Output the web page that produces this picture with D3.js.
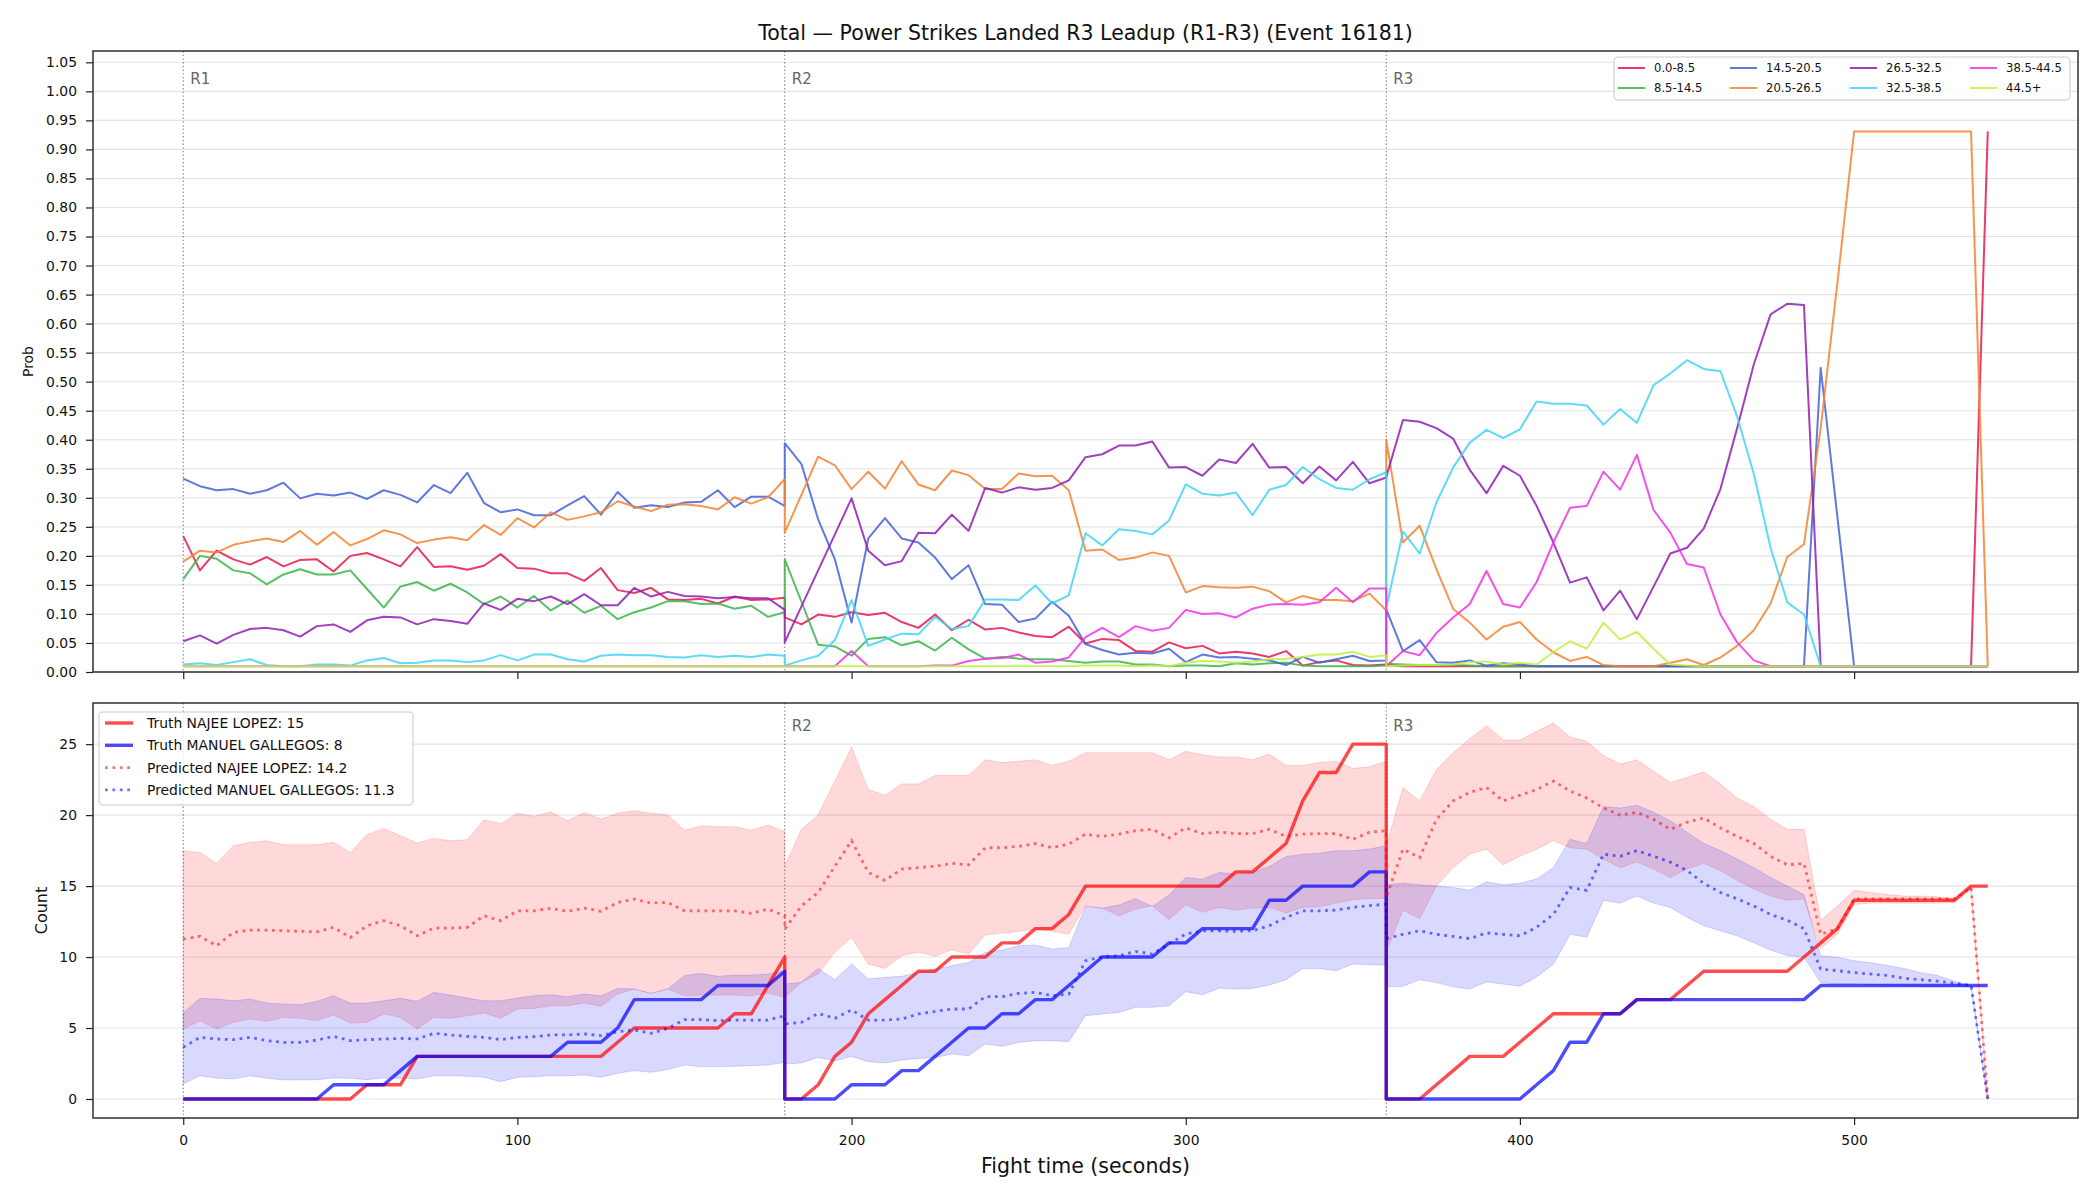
<!DOCTYPE html>
<html>
<head>
<meta charset="utf-8">
<script src="https://cdn.jsdelivr.net/npm/d3@7"></script>
<style>
  body { margin: 0; background: #fff; }
  svg { font-family: "DejaVu Sans", sans-serif; }
</style>
</head>
<body>
<svg id="chart" width="2100" height="1200"></svg>
<script>
// sampling: each round has its own samples every 5 s, round boundaries repeated
const roundStarts = [0, 180, 360];
const roundNames = ['R1', 'R2', 'R3'];
const roundLen = 180, step = 5;
const times = roundStarts.flatMap(s => d3.range(s, s + roundLen + 1, step));

const binLabels = ['0.0-8.5', '8.5-14.5', '14.5-20.5', '20.5-26.5', '26.5-32.5', '32.5-38.5', '38.5-44.5', '44.5+'];
const binColors = ['#e6194b', '#3cb44b', '#4363d8', '#f58231', '#911eb4', '#42d4f4', '#f032e6', '#bfef45'];

const bin0 = [
  .234,.175,.209,.194,.185,.198,.182,.193,.194,.173,.200,.205,.194,.182,.215,.181,.182,.176,.183,.203,.179,.178,.170,.170,.157,.179,.141,.136,.145,.125,.124,.126,.118,.130,.124,.125,.128,
  .094,.082,.099,.095,.103,.098,.102,.086,.076,.099,.072,.090,.073,.076,.068,.062,.060,.078,.049,.057,.055,.036,.035,.051,.041,.045,.032,.035,.032,.026,.036,.011,.017,.020,.012,.011,.013,
  .012,.010,.010,.010,.010,.010,.010,.010,.010,.010,.010,.010,.010,.010,.010,.010,.010,.010,.010,.010,.010,.010,.010,.010,.010,.010,.010,.010,.010,.010,.010,.010,.010,.010,.010,.010,.931
];
const bin1 = [
  .160,.200,.195,.175,.170,.151,.168,.177,.168,.168,.175,.143,.111,.147,.155,.140,.152,.137,.117,.130,.111,.131,.106,.123,.102,.114,.091,.103,.111,.122,.122,.117,.118,.109,.114,.095,.103,
  .194,.121,.047,.044,.028,.057,.060,.046,.053,.037,.059,.039,.023,.026,.023,.022,.022,.019,.016,.018,.018,.013,.013,.010,.011,.011,.010,.015,.013,.015,.016,.011,.010,.010,.010,.010,.011,
  .014,.013,.012,.012,.012,.011,.010,.010,.010,.010,.010,.010,.010,.010,.010,.010,.010,.010,.010,.010,.010,.010,.010,.010,.010,.010,.010,.010,.010,.010,.010,.010,.010,.010,.010,.010,.010
];
const bin2 = [
  .333,.320,.313,.315,.307,.313,.326,.299,.307,.304,.309,.298,.313,.305,.292,.322,.308,.343,.291,.275,.280,.270,.270,.287,.303,.271,.310,.283,.287,.284,.292,.293,.313,.284,.302,.302,.286,
  .394,.358,.263,.194,.085,.230,.265,.230,.223,.197,.160,.184,.117,.116,.086,.092,.121,.097,.048,.038,.030,.033,.032,.040,.017,.030,.025,.026,.023,.020,.012,.026,.016,.022,.028,.019,.020,
  .108,.036,.055,.017,.016,.020,.011,.015,.013,.010,.010,.010,.010,.010,.010,.010,.010,.010,.010,.010,.010,.010,.010,.010,.010,.010,.524,.267,.010,.010,.010,.010,.010,.010,.010,.010,.010
];
const bin3 = [
  .190,.209,.206,.219,.225,.230,.224,.243,.219,.241,.218,.229,.244,.237,.222,.228,.232,.227,.253,.236,.265,.249,.275,.262,.268,.275,.294,.285,.277,.288,.289,.286,.280,.301,.290,.301,.332,
  .240,.305,.371,.356,.315,.345,.316,.363,.323,.313,.347,.339,.315,.315,.342,.337,.338,.313,.209,.211,.193,.197,.206,.200,.137,.148,.146,.145,.147,.139,.120,.131,.124,.124,.122,.135,.106,
  .400,.223,.252,.177,.109,.085,.056,.078,.086,.056,.034,.019,.026,.012,.010,.010,.010,.016,.022,.012,.025,.045,.072,.118,.198,.220,.420,.670,.931,.931,.931,.931,.931,.931,.931,.931,.010
];
const bin4 = [
  .053,.063,.049,.064,.074,.076,.072,.061,.079,.082,.069,.089,.095,.094,.082,.091,.088,.083,.118,.107,.126,.122,.130,.117,.134,.115,.115,.145,.130,.138,.131,.130,.127,.129,.127,.127,.107,
  .051,.113,.175,.237,.299,.209,.184,.191,.240,.239,.271,.243,.317,.309,.318,.314,.317,.330,.370,.375,.390,.390,.397,.352,.353,.338,.366,.360,.393,.352,.353,.325,.354,.330,.362,.325,.335,
  .336,.434,.431,.420,.402,.348,.308,.355,.338,.286,.223,.154,.163,.106,.140,.091,.147,.204,.214,.247,.315,.420,.530,.616,.634,.632,.010,.010,.010,.010,.010,.010,.010,.010,.010,.010,.010
];
const bin5 = [
  .013,.015,.012,.017,.022,.012,.010,.010,.013,.013,.011,.020,.024,.015,.016,.020,.020,.017,.020,.029,.020,.030,.030,.022,.018,.028,.030,.029,.029,.026,.025,.029,.026,.028,.026,.030,.028,
  .011,.020,.028,.055,.124,.045,.056,.066,.065,.095,.074,.079,.125,.125,.124,.149,.118,.132,.239,.218,.246,.243,.237,.261,.323,.307,.304,.309,.270,.314,.322,.353,.332,.317,.314,.332,.344,
  .110,.242,.204,.292,.352,.395,.417,.403,.418,.466,.462,.462,.459,.426,.453,.429,.494,.514,.537,.522,.518,.440,.341,.214,.120,.099,.010,.010,.010,.010,.010,.010,.010,.010,.010,.010,.010
];
const bin6 = [
  .010,.010,.010,.010,.010,.010,.010,.010,.010,.010,.010,.010,.010,.010,.010,.010,.010,.010,.010,.010,.010,.010,.010,.010,.010,.010,.010,.010,.010,.010,.010,.010,.010,.010,.010,.010,.010,
  .010,.010,.010,.010,.036,.010,.010,.010,.010,.011,.011,.019,.023,.024,.030,.016,.018,.025,.060,.076,.060,.079,.071,.076,.107,.100,.101,.094,.109,.116,.117,.116,.120,.145,.120,.144,.144,
  .010,.036,.029,.067,.094,.117,.174,.117,.111,.155,.223,.283,.286,.345,.314,.374,.279,.240,.186,.180,.099,.051,.020,.010,.010,.010,.010,.010,.010,.010,.010,.010,.010,.010,.010,.010,.010
];
const bin7 = [
  .010,.010,.010,.010,.010,.010,.010,.010,.010,.010,.010,.010,.010,.010,.010,.010,.010,.010,.010,.010,.010,.010,.010,.010,.010,.010,.010,.010,.010,.010,.010,.010,.010,.010,.010,.010,.010,
  .010,.010,.010,.010,.010,.010,.010,.010,.010,.010,.010,.010,.010,.010,.010,.010,.010,.010,.011,.011,.011,.010,.011,.010,.016,.019,.018,.016,.018,.022,.023,.026,.030,.030,.035,.026,.029,
  .010,.011,.012,.012,.013,.017,.018,.013,.016,.013,.034,.053,.040,.085,.056,.069,.040,.013,.011,.010,.010,.010,.010,.010,.010,.010,.010,.010,.010,.010,.010,.010,.010,.010,.010,.010,.010
];
const binSeries = [bin0, bin1, bin2, bin3, bin4, bin5, bin6, bin7];

// bottom panel: cumulative counts
const truthRed = [
  0,0,0,0,0,0,0,0,0,0,0,1,1,1,3,3,3,3,3,3,3,3,3,3,3,3,4,5,5,5,5,5,5,6,6,8,10,
  0,0,1,3,4,6,7,8,9,9,10,10,10,11,11,12,12,13,15,15,15,15,15,15,15,15,15,16,16,17,18,21,23,23,25,25,25,
  0,0,0,1,2,3,3,3,4,5,6,6,6,6,6,7,7,7,8,9,9,9,9,9,9,10,11,12,14,14,14,14,14,14,14,15,15
];
const truthBlue = [
  0,0,0,0,0,0,0,0,0,1,1,1,1,2,3,3,3,3,3,3,3,3,3,4,4,4,5,7,7,7,7,7,8,8,8,8,9,
  0,0,0,0,1,1,1,2,2,3,4,5,5,6,6,7,7,8,9,10,10,10,10,11,11,12,12,12,12,14,14,15,15,15,15,16,16,
  0,0,0,0,0,0,0,0,0,1,2,4,4,6,6,7,7,7,7,7,7,7,7,7,7,7,8,8,8,8,8,8,8,8,8,8,8
];
const predRed = [
  11.27,11.46,10.80,11.74,11.90,11.90,11.85,11.81,11.78,12.09,11.38,12.21,12.56,12.21,11.50,12.04,12.04,12.09,12.91,12.56,13.26,13.26,13.43,13.22,13.45,13.22,13.85,14.08,13.80,13.85,13.26,13.26,13.26,13.26,13.08,13.38,12.91,
  11.97,13.6,14.55,16.4,18.2,15.96,15.4,16.2,16.3,16.4,16.6,16.5,17.7,17.7,17.8,18.0,17.7,17.96,18.66,18.5,18.66,18.9,19.0,18.4,19.1,18.7,18.8,18.7,18.7,19.0,18.5,18.66,18.7,18.7,18.3,18.8,18.9,
  14.2,17.6,17.0,19.7,21.0,21.6,21.95,21.0,21.4,21.8,22.4,21.7,21.2,20.5,20.0,20.2,19.7,19.0,19.5,19.8,19.1,18.5,18.0,17.1,16.5,16.6,11.6,12.0,14.1,14.1,14.1,14.1,14.1,14.1,14.1,14.9,0
];
const redHi = [
  17.49,17.37,16.60,17.84,18.08,18.19,17.91,17.91,17.91,18.08,17.37,18.62,19.06,18.54,18.03,18.36,18.19,18.26,19.67,19.41,20.14,19.91,20.23,19.60,20.19,19.72,20.14,20.31,20.14,20.02,18.94,19.25,19.18,19.18,18.94,19.30,18.83,
  16.4,19.0,20.0,22.4,24.8,21.8,21.4,22.2,22.2,22.8,22.8,22.8,23.9,23.7,23.8,23.9,23.5,23.8,24.4,24.4,24.4,24.4,24.4,23.9,24.5,24.25,24.1,24.1,23.9,24.3,23.5,23.5,23.7,23.8,23.3,23.4,23.8,
  17.8,21.95,21.0,23.2,24.4,25.4,26.3,25.3,25.3,25.9,26.5,25.5,25.2,24.2,23.6,23.9,23.1,22.3,22.65,23.05,22.2,21.2,20.6,19.7,19.0,19.0,12.6,13.6,14.7,14.55,14.4,14.3,14.3,14.25,14.1,15.0,0
];
const redLo = [
  4.93,5.52,4.93,5.40,5.63,5.47,5.75,5.68,5.52,5.92,5.35,5.40,5.99,5.75,4.93,5.75,5.68,5.87,6.06,5.68,6.34,6.38,6.57,6.57,6.76,6.53,7.39,7.75,7.44,7.75,7.28,7.32,7.32,7.32,7.28,7.46,7.16,
  7.16,8.22,8.80,10.33,11.38,9.51,9.20,10.09,10.33,10.05,10.52,10.21,11.57,11.69,11.81,11.97,11.81,11.62,13.62,13.45,12.91,13.38,13.62,12.63,13.69,13.15,13.50,13.31,13.43,13.50,13.10,13.50,13.54,13.80,14.04,14.13,14.13,
  10.4,13.3,12.7,15.0,16.3,17.25,17.6,16.5,17.1,17.6,18.2,17.7,17.6,16.9,16.3,16.7,16.2,15.6,16.2,16.6,16.1,15.4,14.8,14.3,14.0,14.1,10.6,11.6,13.7,13.8,13.8,13.8,13.8,13.8,13.85,14.8,0
];
const predBlue = [
  3.64,4.34,4.23,4.18,4.34,4.11,3.99,3.99,4.15,4.41,4.11,4.18,4.23,4.27,4.23,4.62,4.51,4.41,4.34,4.18,4.34,4.39,4.51,4.51,4.58,4.46,4.74,4.86,4.62,4.98,5.59,5.59,5.52,5.56,5.56,5.56,5.87,
  5.28,5.40,6.03,5.68,6.27,5.56,5.56,5.63,5.99,6.17,6.34,6.34,7.21,7.21,7.44,7.51,7.28,7.39,9.74,10.02,10.09,10.40,10.21,10.92,11.62,11.85,11.85,11.81,11.85,12.21,12.79,13.26,13.26,13.31,13.50,13.62,13.73,
  11.3,11.6,11.85,11.6,11.45,11.3,11.7,11.6,11.5,12.1,13.0,14.9,14.7,17.25,17.1,17.5,17.1,16.7,16.1,15.2,14.55,14.1,13.6,13.0,12.6,12.0,9.15,9.04,8.9,8.8,8.7,8.5,8.4,8.3,8.15,8.0,0
];
const blueHi = [
  6.06,7.09,7.04,6.92,7.04,6.76,6.69,6.64,6.88,7.28,6.76,6.76,6.92,7.09,6.88,7.51,7.32,7.11,6.92,6.92,7.11,7.28,7.35,7.21,7.39,7.28,7.79,7.75,7.44,7.75,8.69,8.85,8.64,8.73,8.73,8.80,9.04,
  8.10,8.22,9.20,8.40,9.51,8.45,8.57,8.64,8.92,9.15,9.39,9.62,10.33,10.49,10.80,10.85,10.56,10.68,13.57,13.45,13.66,14.13,13.57,14.37,15.61,15.49,15.96,15.85,15.96,16.38,17.07,17.25,17.32,17.49,17.49,17.61,17.84,
  15.1,15.2,15.1,15.0,14.9,14.7,15.3,15.1,15.2,15.5,16.3,18.3,18.0,20.6,20.5,20.7,20.2,19.6,18.8,18.0,17.5,16.9,16.3,15.6,15.0,14.4,10.1,9.98,9.74,9.6,9.4,9.2,8.9,8.7,8.3,8.0,0
];
const blueLo = [
  1.06,1.64,1.46,1.41,1.64,1.46,1.34,1.34,1.36,1.48,1.46,1.36,1.48,1.46,1.41,1.64,1.64,1.60,1.53,1.22,1.53,1.57,1.64,1.64,1.69,1.53,1.81,2.00,1.88,2.07,2.39,2.28,2.28,2.30,2.35,2.39,2.58,
  2.46,2.54,2.93,2.70,3.00,2.63,2.54,2.75,2.86,2.93,3.17,3.05,3.87,3.71,3.99,4.11,4.11,4.04,5.87,5.99,6.10,6.46,6.46,6.57,7.56,7.35,7.82,7.75,7.79,8.03,8.40,9.20,9.20,9.04,9.51,9.46,9.44,
  7.9,7.95,8.4,8.2,7.9,7.75,8.25,8.1,7.95,8.6,9.5,11.6,11.4,14.0,13.8,14.3,13.8,13.5,12.8,12.2,11.85,11.5,11.0,10.5,10.1,10.0,8.2,8.1,8.1,8.05,8.0,8.0,7.95,7.95,7.95,7.9,0
];

const fighters = [
  {name: 'NAJEE LOPEZ', color: 'rgb(255,0,0)', truth: truthRed, pred: predRed, lo: redLo, hi: redHi, final: 15, predFinal: 14.2},
  {name: 'MANUEL GALLEGOS', color: 'rgb(0,0,255)', truth: truthBlue, pred: predBlue, lo: blueLo, hi: blueHi, final: 8, predFinal: 11.3}
];

const svg = d3.select('#chart');
const left = 93, right = 2078;
const top1 = 51, bot1 = 672, top2 = 703, bot2 = 1118;

const x = d3.scaleLinear().domain([-27, 567]).range([left, right]);
const y1 = d3.scaleLinear().domain([0, 1.0695]).range([bot1, top1]);
const y2 = d3.scaleLinear().domain([-1.34, 27.9]).range([bot2, top2]);

const xTicks = d3.range(0, 501, 100);
const y1Ticks = d3.range(0, 21.5).map(i => i * 0.05);
const y2Ticks = d3.range(0, 26, 5);

svg.append('defs').selectAll('clipPath')
  .data([['clipTop', top1, bot1], ['clipBot', top2, bot2]])
  .join('clipPath').attr('id', d => d[0])
  .append('rect').attr('x', left).attr('y', d => d[1]).attr('width', right - left).attr('height', d => d[2] - d[1]);

function gridAndRounds(g, y, ticks, t, b) {
  g.append('g').selectAll('line').data(ticks).join('line')
    .attr('x1', left).attr('x2', right)
    .attr('y1', d => y(d)).attr('y2', d => y(d))
    .attr('stroke', '#b0b0b0').attr('stroke-opacity', 0.35).attr('stroke-width', 1.1);
  g.append('g').selectAll('line').data(roundStarts).join('line')
    .attr('x1', d => x(d)).attr('x2', d => x(d)).attr('y1', t).attr('y2', b)
    .attr('stroke', '#000').attr('stroke-opacity', 0.5).attr('stroke-width', 1.1)
    .attr('stroke-dasharray', '1.4,2.3');
}

// ---------- top panel ----------
const gTop = svg.append('g');
gridAndRounds(gTop, y1, y1Ticks, top1, bot1);

gTop.append('g').selectAll('text').data(roundStarts).join('text')
  .attr('x', d => x(d) + 7).attr('y', top1 + 33)
  .attr('font-size', 15).attr('fill', '#666')
  .text((d, i) => roundNames[i]);

const line1 = d3.line().x((d, i) => x(times[i])).y(d => y1(d));
gTop.append('g').attr('clip-path', 'url(#clipTop)')
  .selectAll('path').data(binSeries).join('path')
  .attr('d', d => line1(d))
  .attr('fill', 'none').attr('stroke', (d, i) => binColors[i])
  .attr('stroke-opacity', 0.85).attr('stroke-width', 2).attr('stroke-linejoin', 'round');

// ---------- bottom panel ----------
const gBot = svg.append('g');
gridAndRounds(gBot, y2, y2Ticks, top2, bot2);

// R1 sits under the legend in the bottom panel, only R2 and R3 show
gBot.append('g').selectAll('text').data(roundStarts.slice(1)).join('text')
  .attr('x', d => x(d) + 7).attr('y', top2 + 28)
  .attr('font-size', 15).attr('fill', '#666')
  .text((d, i) => roundNames[i + 1]);

const plotBot = gBot.append('g').attr('clip-path', 'url(#clipBot)');
const band = (lo, hi) => d3.area().x((d, i) => x(times[i])).y0((d, i) => y2(lo[i])).y1((d, i) => y2(hi[i]));
const line2 = d3.line().x((d, i) => x(times[i])).y(d => y2(d));

fighters.forEach(f => {
  plotBot.append('path')
    .attr('d', band(f.lo, f.hi)(times))
    .attr('fill', f.color).attr('fill-opacity', 0.15)
    .attr('stroke', f.color).attr('stroke-opacity', 0.15).attr('stroke-width', 1);
});
fighters.forEach(f => {
  plotBot.append('path').attr('d', line2(f.truth))
    .attr('fill', 'none').attr('stroke', f.color).attr('stroke-opacity', 0.7)
    .attr('stroke-width', 3.4).attr('stroke-linejoin', 'round');
});
fighters.forEach(f => {
  plotBot.append('path').attr('d', line2(f.pred))
    .attr('fill', 'none').attr('stroke', f.color).attr('stroke-opacity', 0.55)
    .attr('stroke-width', 2.8).attr('stroke-dasharray', '2.8,4.6');
});

// ---------- axes ----------
function frame(t, b) {
  svg.append('rect').attr('x', left).attr('y', t).attr('width', right - left).attr('height', b - t)
    .attr('fill', 'none').attr('stroke', '#222').attr('stroke-width', 1.4);
}
function styleAxis(g) {
  g.select('.domain').remove();
  g.selectAll('.tick line').attr('stroke', '#222').attr('stroke-width', 1.2);
  g.selectAll('.tick text').attr('fill', '#111').attr('font-size', 13.9)
    .attr('font-family', '"DejaVu Sans", sans-serif');
}

svg.append('g').attr('transform', `translate(${left},0)`)
  .call(d3.axisLeft(y1).tickValues(y1Ticks).tickFormat(d3.format('.2f')).tickSize(7).tickPadding(9))
  .call(styleAxis);
svg.append('g').attr('transform', `translate(0,${bot1})`)
  .call(d3.axisBottom(x).tickValues(xTicks).tickFormat('').tickSize(7))
  .call(styleAxis);
svg.append('g').attr('transform', `translate(${left},0)`)
  .call(d3.axisLeft(y2).tickValues(y2Ticks).tickFormat(d3.format('d')).tickSize(7).tickPadding(9))
  .call(styleAxis);
svg.append('g').attr('transform', `translate(0,${bot2})`)
  .call(d3.axisBottom(x).tickValues(xTicks).tickFormat(d3.format('d')).tickSize(7).tickPadding(10))
  .call(styleAxis);
frame(top1, bot1);
frame(top2, bot2);

// labels
svg.append('text').attr('x', (left + right) / 2).attr('y', 40).attr('text-anchor', 'middle')
  .attr('font-size', 20.5).attr('fill', '#111')
  .text('Total \u2014 Power Strikes Landed R3 Leadup (R1-R3) (Event 16181)');
svg.append('text').attr('x', (left + right) / 2).attr('y', 1173).attr('text-anchor', 'middle')
  .attr('font-size', 20.5).attr('fill', '#111').text('Fight time (seconds)');
svg.append('text').attr('transform', `translate(33,${(top1 + bot1) / 2}) rotate(-90)`)
  .attr('text-anchor', 'middle').attr('font-size', 13.9).attr('fill', '#111').text('Prob');
svg.append('text').attr('transform', `translate(47,${(top2 + bot2) / 2}) rotate(-90)`)
  .attr('text-anchor', 'middle').attr('font-size', 16).attr('fill', '#111').text('Count');

// ---------- legends ----------
const legTop = svg.append('g');
legTop.append('rect').attr('x', 1614).attr('y', 57).attr('width', 456).attr('height', 43).attr('rx', 4)
  .attr('fill', '#fff').attr('fill-opacity', 0.8).attr('stroke', '#ccc').attr('stroke-width', 1.1);
const colX = [1618, 1730, 1850, 1970];
binLabels.forEach((lab, i) => {
  const cx = colX[Math.floor(i / 2)], cy = 68 + (i % 2) * 20;
  legTop.append('line').attr('x1', cx).attr('x2', cx + 27).attr('y1', cy).attr('y2', cy)
    .attr('stroke', binColors[i]).attr('stroke-opacity', 0.85).attr('stroke-width', 2);
  legTop.append('text').attr('x', cx + 36).attr('y', cy + 4.2).attr('font-size', 11.6).attr('fill', '#111').text(lab);
});

const legBot = svg.append('g');
legBot.append('rect').attr('x', 99).attr('y', 712).attr('width', 314).attr('height', 93).attr('rx', 4)
  .attr('fill', '#fff').attr('fill-opacity', 0.8).attr('stroke', '#ccc').attr('stroke-width', 1.1);
const legItems = [
  {f: fighters[0], dotted: false, label: `Truth ${fighters[0].name}: ${fighters[0].final}`},
  {f: fighters[1], dotted: false, label: `Truth ${fighters[1].name}: ${fighters[1].final}`},
  {f: fighters[0], dotted: true, label: `Predicted ${fighters[0].name}: ${fighters[0].predFinal}`},
  {f: fighters[1], dotted: true, label: `Predicted ${fighters[1].name}: ${fighters[1].predFinal}`}
];
legItems.forEach((it, i) => {
  const cy = 723 + i * 22.3;
  legBot.append('line').attr('x1', 105).attr('x2', 133).attr('y1', cy).attr('y2', cy)
    .attr('stroke', it.f.color).attr('stroke-opacity', it.dotted ? 0.55 : 0.7)
    .attr('stroke-width', it.dotted ? 2.8 : 3.4)
    .attr('stroke-dasharray', it.dotted ? '2.8,4.6' : null);
  legBot.append('text').attr('x', 147).attr('y', cy + 5).attr('font-size', 13.9).attr('fill', '#111').text(it.label);
});
</script>
</body>
</html>
